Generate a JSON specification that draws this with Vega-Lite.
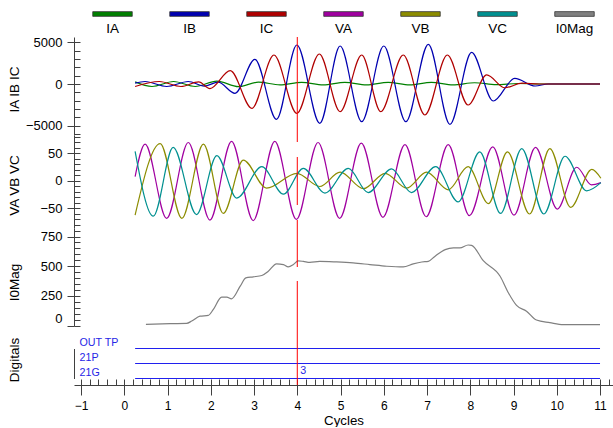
{
"$schema":"https://vega.github.io/schema/vega-lite/v6.json",
"padding":{"left":7,"top":0,"right":0,"bottom":0},
"spacing":0,
"bounds":"flush",
"config":{"font":"Liberation Sans","view":{"stroke":null},
 "axis":{"labelFont":"Liberation Sans","titleFont":"Liberation Sans","labelColor":"#000000","titleColor":"#000000","titleFontWeight":"normal","domainColor":"#404040","tickColor":"#404040","grid":false,"labelFontSize":13,"titleFontSize":13.5},
 "text":{"font":"Liberation Sans"}},
"datasets":{
 "leg":[{"s":"IA"},{"s":"IB"},{"s":"IC"},{"s":"VA"},{"s":"VB"},{"s":"VC"},{"s":"I0Mag"}],
 "cur":[
{"s":"IA","t":0.25,"v":250},{"s":"IA","t":0.64,"v":-300},{"s":"IA","t":1.14,"v":300},{"s":"IA","t":1.64,"v":-300},{"s":"IA","t":2.14,"v":350},{"s":"IA","t":2.64,"v":-320},{"s":"IA","t":3.1,"v":220},{"s":"IA","t":3.6,"v":-100},{"s":"IA","t":4.1,"v":200},{"s":"IA","t":4.6,"v":-100},{"s":"IA","t":5.1,"v":200},{"s":"IA","t":5.6,"v":-100},{"s":"IA","t":6.1,"v":200},{"s":"IA","t":6.6,"v":-100},{"s":"IA","t":7.1,"v":200},{"s":"IA","t":7.6,"v":-100},{"s":"IA","t":8.1,"v":150},{"s":"IA","t":8.6,"v":-80},{"s":"IA","t":9.1,"v":60},{"s":"IA","t":9.6,"v":0},{"s":"IA","t":11.0,"v":0},
{"s":"IB","t":0.25,"v":100},{"s":"IB","t":0.48,"v":300},{"s":"IB","t":0.98,"v":-300},{"s":"IB","t":1.48,"v":300},{"s":"IB","t":1.85,"v":-250},{"s":"IB","t":2.17,"v":220},{"s":"IB","t":2.56,"v":-1120},{"s":"IB","t":3.02,"v":2960},{"s":"IB","t":3.52,"v":-4240},{"s":"IB","t":3.99,"v":4680},{"s":"IB","t":4.52,"v":-4720},{"s":"IB","t":4.99,"v":4560},{"s":"IB","t":5.49,"v":-4520},{"s":"IB","t":6.0,"v":4560},{"s":"IB","t":6.51,"v":-4520},{"s":"IB","t":7.03,"v":4760},{"s":"IB","t":7.53,"v":-4840},{"s":"IB","t":8.03,"v":3800},{"s":"IB","t":8.53,"v":-2040},{"s":"IB","t":9.03,"v":680},{"s":"IB","t":9.5,"v":-240},{"s":"IB","t":9.8,"v":0},{"s":"IB","t":11.0,"v":0},
{"s":"IC","t":0.25,"v":-300},{"s":"IC","t":0.81,"v":300},{"s":"IC","t":1.31,"v":-300},{"s":"IC","t":1.72,"v":250},{"s":"IC","t":1.98,"v":-550},{"s":"IC","t":2.45,"v":1600},{"s":"IC","t":2.95,"v":-2920},{"s":"IC","t":3.46,"v":3480},{"s":"IC","t":3.99,"v":-3520},{"s":"IC","t":4.51,"v":3600},{"s":"IC","t":4.99,"v":-3320},{"s":"IC","t":5.49,"v":3480},{"s":"IC","t":5.93,"v":-3320},{"s":"IC","t":6.45,"v":3480},{"s":"IC","t":6.95,"v":-3720},{"s":"IC","t":7.47,"v":3480},{"s":"IC","t":7.95,"v":-2520},{"s":"IC","t":8.38,"v":1100},{"s":"IC","t":8.8,"v":-450},{"s":"IC","t":9.2,"v":100},{"s":"IC","t":9.6,"v":0},{"s":"IC","t":11.0,"v":0}
 ],
 "volt":[
{"s":"VA","t":0.25,"v":8},{"s":"VA","t":0.48,"v":67},{"s":"VA","t":0.98,"v":-68},{"s":"VA","t":1.48,"v":70},{"s":"VA","t":1.98,"v":-71},{"s":"VA","t":2.48,"v":72},{"s":"VA","t":2.98,"v":-72},{"s":"VA","t":3.48,"v":72},{"s":"VA","t":3.98,"v":-70},{"s":"VA","t":4.48,"v":70},{"s":"VA","t":4.98,"v":-68},{"s":"VA","t":5.48,"v":69},{"s":"VA","t":5.98,"v":-66},{"s":"VA","t":6.49,"v":66},{"s":"VA","t":6.98,"v":-65},{"s":"VA","t":7.49,"v":66},{"s":"VA","t":7.98,"v":-63},{"s":"VA","t":8.52,"v":62},{"s":"VA","t":9.01,"v":-62},{"s":"VA","t":9.51,"v":61},{"s":"VA","t":10.01,"v":-51},{"s":"VA","t":10.46,"v":25},{"s":"VA","t":10.8,"v":-7},{"s":"VA","t":11.02,"v":-3},
{"s":"VB","t":0.25,"v":-62},{"s":"VB","t":0.83,"v":68},{"s":"VB","t":1.33,"v":-68},{"s":"VB","t":1.83,"v":67},{"s":"VB","t":2.29,"v":-59},{"s":"VB","t":2.75,"v":38},{"s":"VB","t":3.29,"v":-13},{"s":"VB","t":3.99,"v":14},{"s":"VB","t":4.52,"v":-10},{"s":"VB","t":4.99,"v":16},{"s":"VB","t":5.53,"v":-14},{"s":"VB","t":6.03,"v":14},{"s":"VB","t":6.53,"v":-13},{"s":"VB","t":6.99,"v":16},{"s":"VB","t":7.49,"v":-16},{"s":"VB","t":7.95,"v":26},{"s":"VB","t":8.42,"v":-41},{"s":"VB","t":8.86,"v":53},{"s":"VB","t":9.37,"v":-60},{"s":"VB","t":9.84,"v":59},{"s":"VB","t":10.32,"v":-48},{"s":"VB","t":10.81,"v":21},{"s":"VB","t":11.02,"v":5},
{"s":"VC","t":0.25,"v":54},{"s":"VC","t":0.67,"v":-64},{"s":"VC","t":1.13,"v":61},{"s":"VC","t":1.67,"v":-61},{"s":"VC","t":2.14,"v":46},{"s":"VC","t":2.6,"v":-31},{"s":"VC","t":3.18,"v":26},{"s":"VC","t":3.68,"v":-24},{"s":"VC","t":4.14,"v":23},{"s":"VC","t":4.64,"v":-22},{"s":"VC","t":5.18,"v":23},{"s":"VC","t":5.64,"v":-21},{"s":"VC","t":6.18,"v":22},{"s":"VC","t":6.64,"v":-21},{"s":"VC","t":7.2,"v":26},{"s":"VC","t":7.72,"v":-38},{"s":"VC","t":8.22,"v":53},{"s":"VC","t":8.7,"v":-59},{"s":"VC","t":9.19,"v":59},{"s":"VC","t":9.7,"v":-60},{"s":"VC","t":10.19,"v":45},{"s":"VC","t":10.69,"v":-18},{"s":"VC","t":11.02,"v":-3}
 ],
 "mag":[
{"s":"I0Mag","t":0.5,"v":11},{"s":"I0Mag","t":1.06,"v":17},{"s":"I0Mag","t":1.44,"v":19},{"s":"I0Mag","t":1.56,"v":39},{"s":"I0Mag","t":1.75,"v":80},{"s":"I0Mag","t":1.94,"v":86},{"s":"I0Mag","t":2.06,"v":137},{"s":"I0Mag","t":2.25,"v":240},{"s":"I0Mag","t":2.37,"v":240},{"s":"I0Mag","t":2.48,"v":226},{"s":"I0Mag","t":2.68,"v":332},{"s":"I0Mag","t":2.81,"v":402},{"s":"I0Mag","t":2.98,"v":411},{"s":"I0Mag","t":3.18,"v":422},{"s":"I0Mag","t":3.33,"v":458},{"s":"I0Mag","t":3.52,"v":520},{"s":"I0Mag","t":3.68,"v":514},{"s":"I0Mag","t":3.79,"v":494},{"s":"I0Mag","t":3.91,"v":514},{"s":"I0Mag","t":4.02,"v":545},{"s":"I0Mag","t":4.14,"v":541},{"s":"I0Mag","t":4.29,"v":533},{"s":"I0Mag","t":4.52,"v":541},{"s":"I0Mag","t":4.91,"v":536},{"s":"I0Mag","t":5.29,"v":528},{"s":"I0Mag","t":5.68,"v":514},{"s":"I0Mag","t":6.07,"v":500},{"s":"I0Mag","t":6.45,"v":494},{"s":"I0Mag","t":6.68,"v":520},{"s":"I0Mag","t":6.88,"v":536},{"s":"I0Mag","t":7.03,"v":541},{"s":"I0Mag","t":7.18,"v":583},{"s":"I0Mag","t":7.42,"v":640},{"s":"I0Mag","t":7.61,"v":654},{"s":"I0Mag","t":7.76,"v":654},{"s":"I0Mag","t":7.95,"v":679},{"s":"I0Mag","t":8.03,"v":676},{"s":"I0Mag","t":8.3,"v":547},{"s":"I0Mag","t":8.69,"v":416},{"s":"I0Mag","t":8.88,"v":277},{"s":"I0Mag","t":9.07,"v":170},{"s":"I0Mag","t":9.3,"v":122},{"s":"I0Mag","t":9.53,"v":47},{"s":"I0Mag","t":9.84,"v":25},{"s":"I0Mag","t":10.15,"v":8},{"s":"I0Mag","t":11.0,"v":8}
 ],
 "dig":[
{"ch":"OUT TP","t0":0.25,"t1":11.0,"state":0,"tag":""},
{"ch":"21P","t0":0.25,"t1":11.0,"state":0,"tag":""},
{"ch":"21G","t0":0.25,"t1":11.0,"state":0,"tag":""},
{"ch":"21G","t0":4.0,"t1":8.0,"state":1,"tag":"3"}
 ]
},
"vconcat":[
 {"width":539,"height":37,"data":{"name":"leg"},
  "layer":[
   {"mark":{"type":"point","shape":"M-1,-0.12L1,-0.12L1,0.12L-1,0.12Z","size":1560,"filled":true,"opacity":1,"stroke":"#333333","strokeWidth":0.8,"yOffset":-4.5},
    "encoding":{"x":{"field":"s","type":"nominal","sort":null,"scale":{"type":"point","domain":["IA","IB","IC","VA","VB","VC","I0Mag"],"padding":0.5},"axis":null},
     "color":{"field":"s","type":"nominal","scale":{"domain":["IA","IB","IC","VA","VB","VC","I0Mag"],"range":["#008000","#0000b0","#b00000","#a000a0","#8c8c00","#009090","#808080"]},"legend":null}}},
   {"mark":{"type":"text","dy":10.5,"fontSize":13.5,"baseline":"middle","color":"#000000"},
    "encoding":{"x":{"field":"s","type":"nominal","sort":null,"scale":{"type":"point","domain":["IA","IB","IC","VA","VB","VC","I0Mag"],"padding":0.5},"axis":null},
     "text":{"field":"s"}}}
  ]},
 {"width":539,"height":98,
  "layer":[
   {"data":{"name":"cur"},"mark":{"type":"line","interpolate":"monotone","strokeWidth":1.2},
    "encoding":{
     "x":{"field":"t","type":"quantitative","scale":{"domain":[-1.163,11.3],"nice":false,"zero":false},"axis":{"orient":"top","title":null,"labels":false,"ticks":false,"domainColor":"#8a8a8a"}},
     "y":{"field":"v","type":"quantitative","scale":{"domain":[-6120,5640],"nice":false,"zero":false},"axis":{"orient":"left","values":[-5000,0,5000],"format":"d","tickSize":7,"labelPadding":5,"title":"IA IB IC","titleX":-56,"titleY":52,"titleAngle":-90,"titleAlign":"center","titleBaseline":"alphabetic"}},
     "color":{"field":"s","type":"nominal","scale":{"domain":["IA","IB","IC","VA","VB","VC","I0Mag"],"range":["#008000","#0000b0","#b00000","#a000a0","#8c8c00","#009090","#808080"]},"legend":null}}},
   {"data":{"values":[{}]},"mark":{"type":"rule","color":"#ff0000","strokeWidth":1},
    "encoding":{"x":{"datum":4,"type":"quantitative","axis":null},
     "y":{"datum":5640,"type":"quantitative","axis":{"orient":"left","values":[-6000,-5000,-4000,-3000,-2000,-1000,0,1000,2000,3000,4000,5000],"tickSize":-6,"labels":false,"domain":false,"title":null}},
     "y2":{"datum":-6120}}}
  ],
  "resolve":{"axis":{"y":"independent"}}},
 {"width":539,"height":93,
  "layer":[
   {"data":{"name":"volt"},"mark":{"type":"line","interpolate":"monotone","strokeWidth":1.2},
    "encoding":{
     "x":{"field":"t","type":"quantitative","scale":{"domain":[-1.163,11.3],"nice":false,"zero":false},"axis":null},
     "y":{"field":"v","type":"quantitative","scale":{"domain":[-85.5,83.6],"nice":false,"zero":false},"axis":{"orient":"left","values":[-50,0,50],"format":"d","tickSize":7,"labelPadding":5,"title":"VA VB VC","titleX":-56,"titleY":50,"titleAngle":-90,"titleAlign":"center","titleBaseline":"alphabetic"}},
     "color":{"field":"s","type":"nominal","scale":{"domain":["IA","IB","IC","VA","VB","VC","I0Mag"],"range":["#008000","#0000b0","#b00000","#a000a0","#8c8c00","#009090","#808080"]},"legend":null}}},
   {"data":{"values":[{}]},"mark":{"type":"rule","color":"#ff0000","strokeWidth":1,"strokeDash":[48,15],"strokeDashOffset":41},
    "encoding":{"x":{"datum":4,"type":"quantitative","axis":null},
     "y":{"datum":83.6,"type":"quantitative","axis":{"orient":"left","values":[-80,-70,-60,-50,-40,-30,-20,-10,0,10,20,30,40,50,60,70,80],"tickSize":-6,"labels":false,"domain":false,"title":null}},
     "y2":{"datum":-85.5}}}
  ],
  "resolve":{"axis":{"y":"independent"}}},
 {"width":539,"height":98,
  "layer":[
   {"data":{"name":"mag"},"mark":{"type":"line","interpolate":"monotone","strokeWidth":1.2},
    "encoding":{
     "x":{"field":"t","type":"quantitative","scale":{"domain":[-1.163,11.3],"nice":false,"zero":false},"axis":null},
     "y":{"field":"v","type":"quantitative","scale":{"domain":[-3,822],"nice":false,"zero":false},"axis":{"orient":"left","values":[0,250,500,750],"format":"d","tickSize":7,"labelPadding":5,"labelBaseline":{"condition":{"test":"datum.value === 0","value":"bottom"},"value":"middle"},"title":"I0Mag","titleX":-56,"titleY":54,"titleAngle":-90,"titleAlign":"center","titleBaseline":"alphabetic"}},
     "color":{"field":"s","type":"nominal","scale":{"domain":["IA","IB","IC","VA","VB","VC","I0Mag"],"range":["#008000","#0000b0","#b00000","#a000a0","#8c8c00","#009090","#808080"]},"legend":null}}},
   {"data":{"values":[{}]},"mark":{"type":"rule","color":"#ff0000","strokeWidth":1,"strokeDash":[39,14,100]},
    "encoding":{"x":{"datum":4,"type":"quantitative","axis":null},
     "y":{"datum":822,"type":"quantitative","axis":{"orient":"left","values":[0,50,100,150,200,250,300,350,400,450,500,550,600,650,700,750,800],"tickSize":-6,"labels":false,"domain":false,"title":null}},
     "y2":{"datum":-3}}}
  ],
  "resolve":{"axis":{"y":"independent"}}},
 {"width":539,"height":59,
  "layer":[
   {"data":{"name":"dig"},"mark":{"type":"rule","color":"#2020ee"},
    "encoding":{
     "x":{"field":"t0","type":"quantitative","scale":{"domain":[-1.163,11.3],"nice":false,"zero":false},"axis":{"orient":"bottom","values":[-1,0,1,2,3,4,5,6,7,8,9,10,11],"format":"d","tickSize":10,"labelPadding":5,"labelFontSize":12,"title":"Cycles","titleFontSize":13.3,"titlePadding":2}},
     "x2":{"field":"t1"},
     "y":{"field":"ch","type":"nominal","sort":null,"scale":{"type":"point","domain":["OUT TP","21P","21G"],"range":[22.5,52.5],"padding":0},"axis":{"orient":"left","tickSize":0,"labelAlign":"left","labelPadding":-5,"labelOffset":-6.5,"labelColor":"#2626e6","labelFontSize":10.7,"title":"Digitals","titleX":-56,"titleY":33.5,"titleAngle":-90,"titleAlign":"center","titleBaseline":"alphabetic"}},
     "strokeWidth":{"field":"state","type":"ordinal","scale":{"domain":[0,1],"range":[1,1]},"legend":null}}},
   {"data":{"name":"dig"},"transform":[{"filter":"datum.state === 1"}],"mark":{"type":"text","color":"#2626e6","fontSize":10.7,"align":"left","baseline":"middle","dx":3,"dy":-7.5},
    "encoding":{
     "x":{"field":"t0","type":"quantitative","axis":{"orient":"bottom","values":[-1,-0.8,-0.6,-0.4,-0.2,0,0.2,0.4,0.6,0.8,1,1.2,1.4,1.6,1.8,2,2.2,2.4,2.6,2.8,3,3.2,3.4,3.6,3.8,4,4.2,4.4,4.6,4.8,5,5.2,5.4,5.6,5.8,6,6.2,6.4,6.6,6.8,7,7.2,7.4,7.6,7.8,8,8.2,8.4,8.6,8.8,9,9.2,9.4,9.6,9.8,10,10.2,10.4,10.6,10.8,11,11.2],"tickSize":-6,"labels":false,"domain":false,"title":null}},
     "y":{"field":"ch","type":"nominal","sort":null},
     "text":{"field":"tag"}}},
   {"data":{"values":[{}]},"mark":{"type":"rule","color":"#ff0000","strokeWidth":1},
    "encoding":{"x":{"datum":4,"type":"quantitative","axis":null}}}
  ],
  "resolve":{"axis":{"x":"independent"}}}
]
}
